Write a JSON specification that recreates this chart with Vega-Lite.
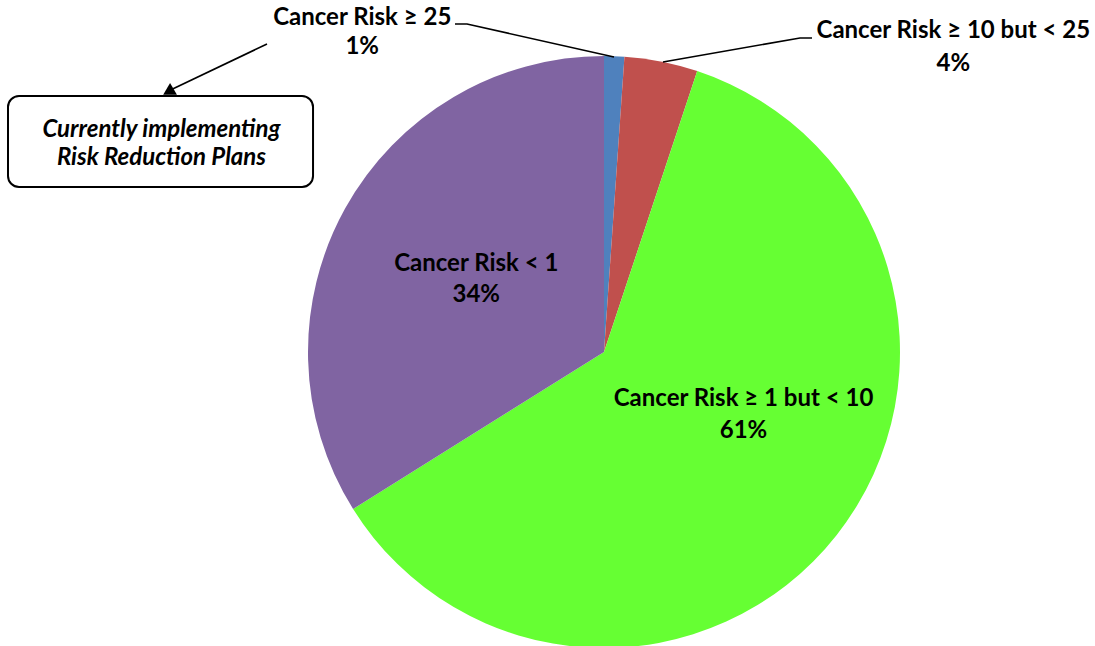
{
  "$schema": "https://vega.github.io/schema/vega-lite/v6.json",
  "autosize": "none",
  "width": 592,
  "height": 588,
  "padding": {"left": 308, "top": 58, "right": 195, "bottom": 0},
  "background": "white",
  "config": {"view": {"stroke": null}},
  "datasets": {
    "slices": [
      {"category": "Cancer Risk ≥ 25", "value": 1.1, "label": "Cancer Risk ≥ 25\n1%"},
      {"category": "Cancer Risk ≥ 10 but < 25", "value": 4.0, "label": "Cancer Risk ≥ 10 but < 25\n4%"},
      {"category": "Cancer Risk ≥ 1 but < 10", "value": 61.0, "label": "Cancer Risk ≥ 1 but < 10\n61%"},
      {"category": "Cancer Risk < 1", "value": 33.9, "label": "Cancer Risk < 1\n34%"}
    ],
    "leaders": [
      {"line": "a", "step": 1, "x": -0.5034, "y": 1.1081},
      {"line": "a", "step": 2, "x": -0.4628, "y": 1.1081},
      {"line": "a", "step": 3, "x": 0.0338, "y": 0.9966},
      {"line": "b", "step": 1, "x": 0.7027, "y": 1.0608},
      {"line": "b", "step": 2, "x": 0.6622, "y": 1.0608},
      {"line": "b", "step": 3, "x": 0.1993, "y": 0.9797},
      {"line": "c", "step": 1, "x": -1.1385, "y": 1.0405},
      {"line": "c", "step": 2, "x": -1.4645, "y": 0.8851}
    ],
    "arrowhead": [{"x": -1.466, "y": 0.889}],
    "callout": [
      {"x": -2.0135, "x2": -0.983, "y": 0.8649, "y2": 0.5574, "cx": -1.495, "cy": 0.751, "text": "Currently implementing\nRisk Reduction Plans"}
    ]
  },
  "layer": [
    {
      "data": {"name": "slices"},
      "mark": {"type": "arc", "outerRadius": 296},
      "encoding": {
        "theta": {"field": "value", "type": "quantitative", "stack": true},
        "order": {"field": "category", "type": "nominal", "sort": "descending"},
        "color": {
          "field": "category", "type": "nominal", "legend": null,
          "scale": {
            "domain": ["Cancer Risk ≥ 25", "Cancer Risk ≥ 10 but < 25", "Cancer Risk ≥ 1 but < 10", "Cancer Risk < 1"],
            "range": ["#4F81BD", "#C0504D", "#66FF33", "#8064A2"]
          }
        }
      }
    },
    {
      "data": {"name": "slices"},
      "mark": {"type": "text", "radius": 146, "dy": -17.5, "font": "Lato", "fontWeight": "bold", "fontSize": 24, "lineBreak": "\n", "lineHeight": 31.5, "align": "center", "baseline": "middle", "color": "black"},
      "encoding": {
        "theta": {"field": "value", "type": "quantitative", "stack": true},
        "order": {"field": "category", "type": "nominal", "sort": "descending"},
        "text": {"condition": {"test": "datum.category == 'Cancer Risk < 1'", "field": "label"}, "value": ""}
      }
    },
    {
      "data": {"name": "slices"},
      "mark": {"type": "text", "radius": 152, "dx": 20, "dy": -46.5, "font": "Lato", "fontWeight": "bold", "fontSize": 24, "lineBreak": "\n", "lineHeight": 31.5, "align": "center", "baseline": "middle", "color": "black"},
      "encoding": {
        "theta": {"field": "value", "type": "quantitative", "stack": true},
        "order": {"field": "category", "type": "nominal", "sort": "descending"},
        "text": {"condition": {"test": "datum.category == 'Cancer Risk ≥ 1 but < 10'", "field": "label"}, "value": ""}
      }
    },
    {
      "data": {"name": "slices"},
      "mark": {"type": "text", "radius": 296, "dx": -252, "dy": -38, "font": "Lato", "fontWeight": "bold", "fontSize": 24, "lineBreak": "\n", "lineHeight": 29, "align": "center", "baseline": "middle", "color": "black"},
      "encoding": {
        "theta": {"field": "value", "type": "quantitative", "stack": true},
        "order": {"field": "category", "type": "nominal", "sort": "descending"},
        "text": {"condition": {"test": "datum.category == 'Cancer Risk ≥ 25'", "field": "label"}, "value": ""}
      }
    },
    {
      "data": {"name": "slices"},
      "mark": {"type": "text", "radius": 296, "dx": 292, "dy": -30.5, "font": "Lato", "fontWeight": "bold", "fontSize": 24, "lineBreak": "\n", "lineHeight": 33, "align": "center", "baseline": "middle", "color": "black"},
      "encoding": {
        "theta": {"field": "value", "type": "quantitative", "stack": true},
        "order": {"field": "category", "type": "nominal", "sort": "descending"},
        "text": {"condition": {"test": "datum.category == 'Cancer Risk ≥ 10 but < 25'", "field": "label"}, "value": ""}
      }
    },
    {
      "data": {"name": "leaders"},
      "mark": {"type": "line", "color": "black", "strokeWidth": 1.6, "clip": false},
      "encoding": {
        "x": {"field": "x", "type": "quantitative", "axis": null, "scale": {"domain": [-1, 1], "nice": false, "zero": false}},
        "y": {"field": "y", "type": "quantitative", "axis": null, "scale": {"domain": [-0.99324, 0.99324], "nice": false, "zero": false}},
        "detail": {"field": "line", "type": "nominal"},
        "order": {"field": "step", "type": "quantitative"}
      }
    },
    {
      "data": {"name": "arrowhead"},
      "mark": {"type": "point", "shape": "triangle-up", "filled": true, "color": "black", "size": 190, "opacity": 1},
      "encoding": {
        "x": {"field": "x", "type": "quantitative"},
        "y": {"field": "y", "type": "quantitative"}
      }
    },
    {
      "data": {"name": "callout"},
      "mark": {"type": "rect", "fill": "white", "stroke": "black", "strokeWidth": 2, "cornerRadius": 11},
      "encoding": {
        "x": {"field": "x", "type": "quantitative"},
        "x2": {"field": "x2"},
        "y": {"field": "y", "type": "quantitative"},
        "y2": {"field": "y2"}
      }
    },
    {
      "data": {"name": "callout"},
      "mark": {"type": "text", "font": "Lato", "fontWeight": "bold", "fontStyle": "italic", "fontSize": 24, "lineBreak": "\n", "lineHeight": 28.5, "align": "center", "baseline": "middle", "color": "black"},
      "encoding": {
        "x": {"field": "cx", "type": "quantitative"},
        "y": {"field": "cy", "type": "quantitative"},
        "text": {"field": "text"}
      }
    }
  ]
}
